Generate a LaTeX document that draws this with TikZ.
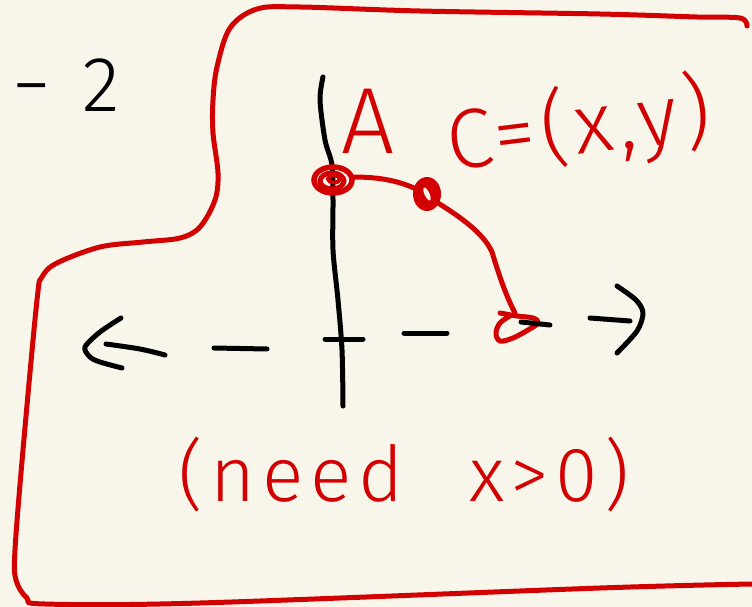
\documentclass[tikz,border=0pt]{standalone}
\usepackage{fontspec}
\setmainfont{Fira Sans}[UprightFont={* Light}]
\usetikzlibrary{shapes.geometric}
\definecolor{bgc}{HTML}{F8F5EA}
\definecolor{inkred}{HTML}{D20000}
\tikzset{
  redline/.style={draw=inkred,line width=5pt,line cap=round,line join=round},
  blackline/.style={draw=black,line width=5pt,line cap=round,line join=round},
  redtext/.style={text=inkred,inner sep=0pt},
  blacktext/.style={text=black,inner sep=0pt}
}
\begin{document}
\begin{tikzpicture}[x=1pt,y=-1pt]
\fill[bgc] (0,0) rectangle (752,607);
\useasboundingbox (0,0) rectangle (752,607);

% outline
\draw[redline] plot[smooth,tension=0.55] coordinates {(747,26) (740,18) (697,17) (600,14) (420,11) (300,7) (257,9) (230,28) (217,67) (213,100) (213,133) (218,173) (215,200) (200,227) (180,238) (143,242) (100,247) (57,263) (42,277) (37,300) (23,450) (15,550) (16,580) (27,598) (45,604) (200,603) (600,588) (752,584)};

% minus two
\node[blacktext,font=\fontsize{78}{80}\selectfont] (mtwo) at (66,85) {−\hspace{0.4em}2};

% vertical axis
\coordinate (vtop) at (323,77);
\coordinate (vbot) at (343,406);
\draw[blackline] plot[smooth] coordinates {(vtop) (320,100) (325,140) (332,165) (333,200) (333,250) (338,300) (342,350) (vbot)};

% horizontal axis pieces
\coordinate (ltip) at (85,347);
\draw[blackline] plot[smooth] coordinates {(121,318) (100,332) (ltip) (90,357) (100,362) (122,368)};
\draw[blackline] plot[smooth] coordinates {(106,344) (140,349) (165,355)};
\draw[blackline] (214,348) -- (267,349);
\draw[blackline] (325,339) -- (363,339);
\draw[blackline] (404,333) -- (447,333);
\draw[blackline] (590,318) -- (630,321);
\draw[blackline] plot[smooth] coordinates {(617,286) (636,300) (643,313) (637,331) (617,353)};

% labels
\node[redtext,font=\fontsize{94}{100}\selectfont] (lblA) at (368,121) {A};
\node[redtext,font=\fontsize{84}{88}\selectfont\addfontfeatures{LetterSpace=7},rotate=7] (lblC) at (579,128) {C=(x,y)};
\node[redtext,font=\fontsize{77}{80}\selectfont\addfontfeatures{LetterSpace=9}] (lblneed) at (404,475) {(need\hspace{0.85em}x>0)};

% point A scribble
\coordinate (ptA) at (333,180);
\draw[inkred,line width=5.5pt] (ptA) ellipse [x radius=19,y radius=13];
\draw[inkred,line width=5pt] (332,181) ellipse [x radius=12,y radius=8];
\draw[inkred,line width=4pt] (334,179) ellipse [x radius=6,y radius=3.5];
\coordinate (ptAe) at (353,177);

% point C scribble
\coordinate (ptC) at (427,194);
\fill[inkred] (ptC) ellipse [x radius=14,y radius=17];
\fill[bgc,rotate around={25:(427,194)}] (427,194) ellipse [x radius=2.5,y radius=7];
\coordinate (ptCw) at (414,188);
\coordinate (ptCse) at (438,203);

% end loop
\coordinate (ptD) at (515,313);
\draw[redline] (ptAe) .. controls (380,177) and (398,181) .. (ptCw);
\draw[redline] (ptCse) .. controls (462,218) and (484,234) .. (492,252) .. controls (499,275) and (506,296) .. (ptD);
\draw[redline] plot[smooth,tension=0.6] coordinates {(500,313) (517,316) (533,318) (538,323) (528,330) (513,338) (500,341) (496,333) (500,323) (510,316)};
\draw[blackline] (521,322) -- (550,325);
\end{tikzpicture}
\end{document}
